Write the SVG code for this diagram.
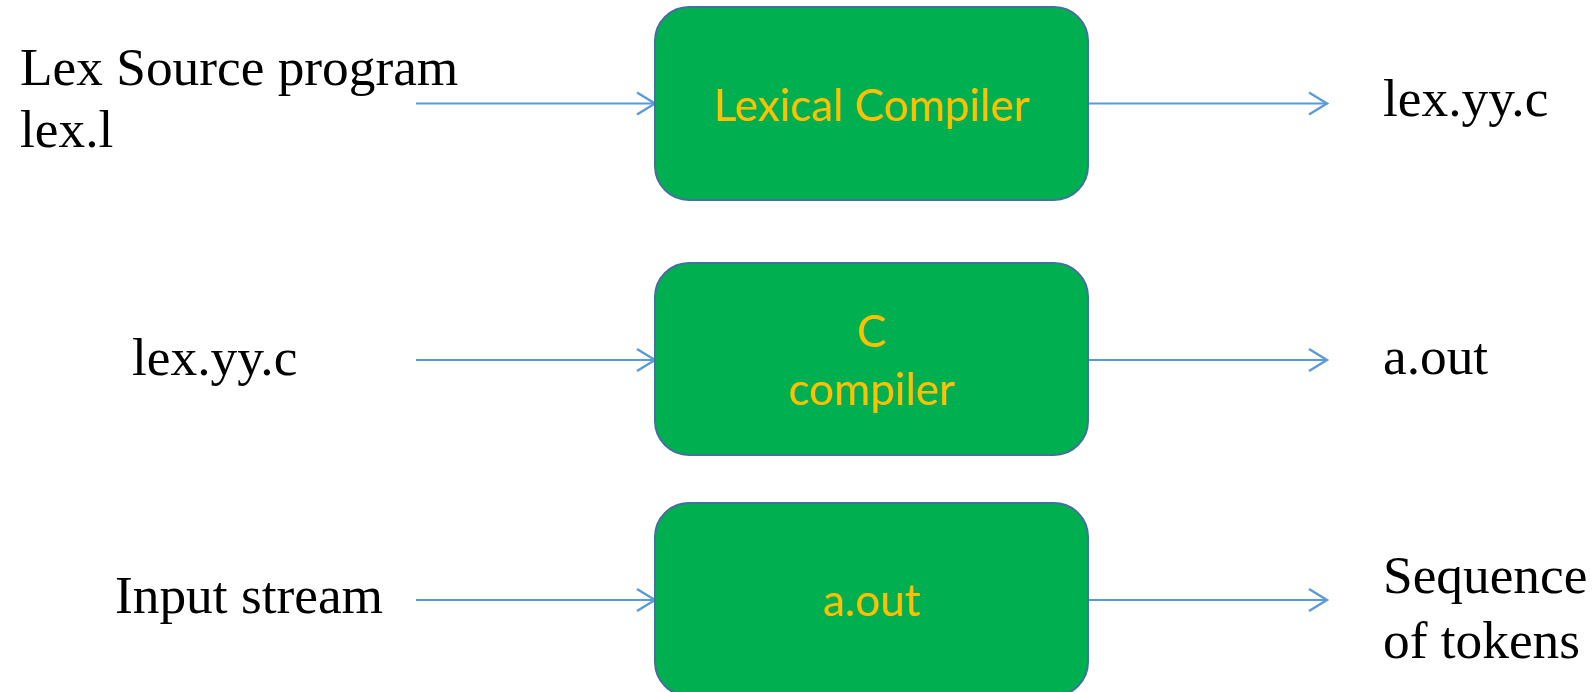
<svg xmlns="http://www.w3.org/2000/svg" width="1596" height="692" viewBox="0 0 1596 692">
<style>
.box{fill:#00B050;stroke:#41719C;stroke-width:2}
.bt{font-family:Lato,"Open Sans",sans-serif;font-size:44px;fill:#FFC000;text-anchor:middle}
.lbl{font-family:"Liberation Serif","Times New Roman",serif;font-size:53.33px;fill:#000}
.con{stroke:#5B9BD5;stroke-width:2.2;fill:none}
</style>
<defs>
<marker id="arr" markerUnits="userSpaceOnUse" markerWidth="24" markerHeight="26" refX="20" refY="12" orient="auto" overflow="visible">
<path d="M2,1 L20,12 L2,23" fill="none" stroke="#5B9BD5" stroke-width="2.4"/>
</marker>
</defs>
<g id="connectors">
<line class="con" x1="416" y1="103.5" x2="655" y2="103.5" marker-end="url(#arr)"/>
<line class="con" x1="1088" y1="103.5" x2="1327" y2="103.5" marker-end="url(#arr)"/>
<line class="con" x1="416" y1="360" x2="655" y2="360" marker-end="url(#arr)"/>
<line class="con" x1="1088" y1="360" x2="1327" y2="360" marker-end="url(#arr)"/>
<line class="con" x1="416" y1="600" x2="655" y2="600" marker-end="url(#arr)"/>
<line class="con" x1="1088" y1="600" x2="1327" y2="600" marker-end="url(#arr)"/>
</g>
<g id="lexical-compiler">
<rect class="box" x="655" y="7" width="433" height="193" rx="34"/>
<text class="bt" x="871.5" y="121">Lexical Compiler</text>
</g>
<g id="c-compiler">
<rect class="box" x="655" y="263" width="433" height="192" rx="34"/>
<text class="bt" x="871.5" y="347">C</text>
<text class="bt" x="871.5" y="405">compiler</text>
</g>
<g id="a-out">
<rect class="box" x="655" y="503" width="433" height="193" rx="34"/>
<text class="bt" x="871.5" y="616">a.out</text>
</g>
<g id="lex-source">
<text class="lbl" x="20" y="85">Lex Source program</text>
<text class="lbl" x="20" y="147">lex.l</text>
</g>
<g id="lex-yy-c-out">
<text class="lbl" x="1383" y="116">lex.yy.c</text>
</g>
<g id="lex-yy-c-in">
<text class="lbl" x="132" y="375">lex.yy.c</text>
</g>
<g id="a-out-file">
<text class="lbl" x="1383" y="374">a.out</text>
</g>
<g id="input-stream">
<text class="lbl" x="115" y="613">Input stream</text>
</g>
<g id="tokens">
<text class="lbl" x="1383" y="593">Sequence</text>
<text class="lbl" x="1383" y="658">of tokens</text>
</g>
</svg>
